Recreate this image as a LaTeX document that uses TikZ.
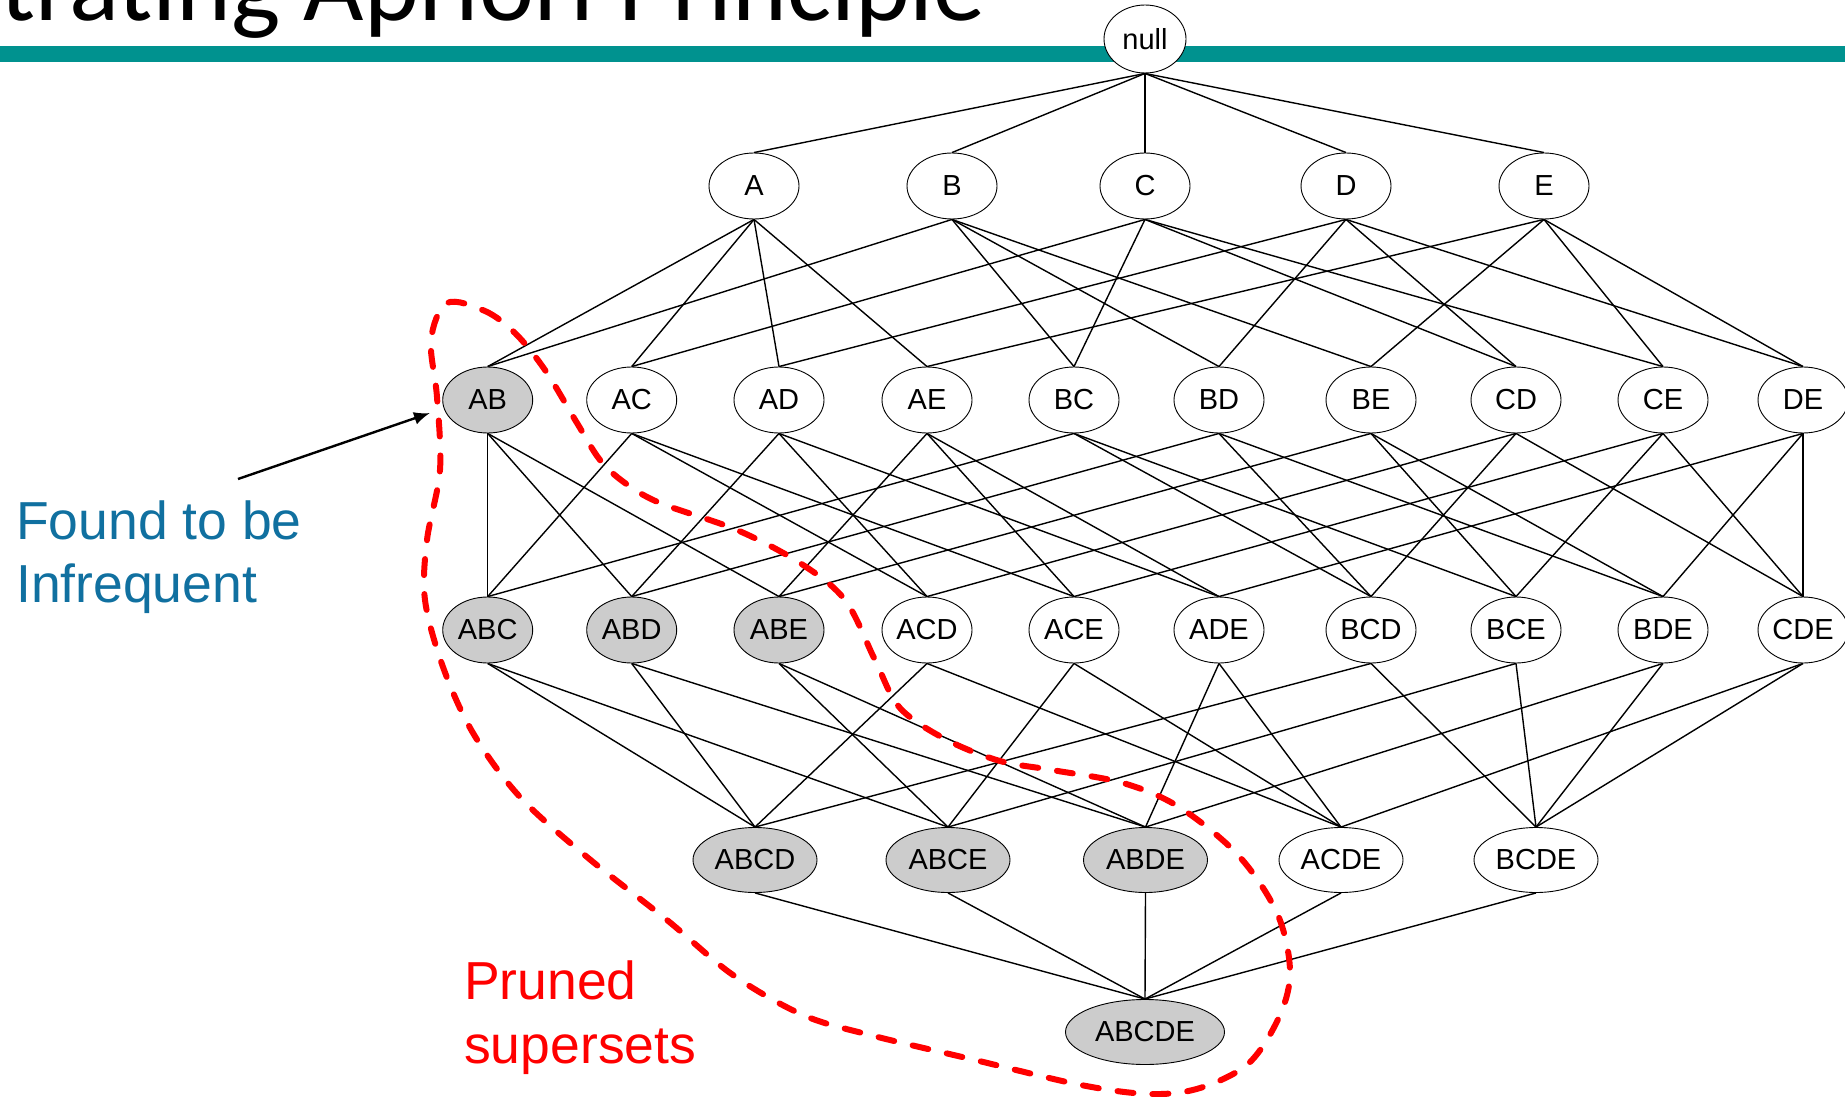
\documentclass[tikz,border=0pt]{standalone}
\usepackage{fontspec}
\setmainfont{Liberation Sans}
\newfontfamily\titlefont{Carlito}
\usetikzlibrary{shapes.geometric,arrows.meta}
\definecolor{tealbar}{RGB}{0,146,143}
\definecolor{infblue}{RGB}{16,112,160}
\definecolor{prunegray}{RGB}{204,204,204}
\definecolor{prunered}{RGB}{255,0,0}
\tikzset{
  setnode/.style={ellipse,draw=black,line width=0.9pt,fill=white,inner sep=0pt,
    minimum width=90pt,minimum height=66pt,font=\fontsize{29}{31}\selectfont},
  prunednode/.style={fill=prunegray},
  wideset/.style={minimum width=124pt,minimum height=65pt},
  widestset/.style={minimum width=159pt,minimum height=65pt},
  latedge/.style={line width=1.4pt,draw=black},
  annot/.style={anchor=base west,inner sep=0pt,font=\fontsize{53.5}{60}\selectfont},
  prunecurve/.style={draw=prunered,line width=6pt,line cap=round,dash pattern=on 16pt off 19pt}
}
\begin{document}
\begin{tikzpicture}[x=1pt,y=-1pt]
\path[use as bounding box] (0,0) rectangle (1845,1097);
\clip (0,0) rectangle (1845,1097);
\fill[white] (0,0) rectangle (1845,1097);
% title and bar
\node[anchor=base west,inner sep=0pt,font=\titlefont\fontsize{104.3}{110}\selectfont] (title) at (0,20.7) {trating Apriori Principle};
\fill[tealbar] (0,46) rectangle (1845,62);
% level 0
\node[setnode,minimum width=82pt,minimum height=68pt] (null) at (1145,39) {null};
% level 1
\foreach \n/\x in {A/754,B/952,C/1145,D/1346,E/1544}
  \node[setnode] (\n) at (\x,186) {\n};
% level 2
\foreach \n/\x in {AC/631.7,AD/779,AE/927,BC/1074,BD/1219,BE/1371,CD/1516,CE/1663,DE/1803}
  \node[setnode] (\n) at (\x,400) {\n};
\node[setnode,prunednode] (AB) at (487.7,400) {AB};
% level 3
\foreach \n/\x in {ABC/487.7,ABD/631.7,ABE/779}
  \node[setnode,prunednode] (\n) at (\x,630) {\n};
\foreach \n/\x in {ACD/927,ACE/1074,ADE/1219,BCD/1371,BCE/1516,BDE/1663,CDE/1803}
  \node[setnode] (\n) at (\x,630) {\n};
% level 4
\foreach \n/\x in {ABCD/755,ABCE/948,ABDE/1145.5}
  \node[setnode,wideset,prunednode] (\n) at (\x,860) {\n};
\foreach \n/\x in {ACDE/1341,BCDE/1536}
  \node[setnode,wideset] (\n) at (\x,860) {\n};
% level 5
\node[setnode,widestset,prunednode] (ABCDE) at (1145,1032) {ABCDE};
% edges
\foreach \p/\c in {null/A,null/B,null/C,null/D,null/E,
  A/AB,B/AB,A/AC,C/AC,A/AD,D/AD,A/AE,E/AE,B/BC,C/BC,B/BD,D/BD,B/BE,E/BE,C/CD,D/CD,C/CE,E/CE,D/DE,E/DE,
  AB/ABC,AC/ABC,BC/ABC,AB/ABD,AD/ABD,BD/ABD,AB/ABE,AE/ABE,BE/ABE,AC/ACD,AD/ACD,CD/ACD,
  AC/ACE,AE/ACE,CE/ACE,AD/ADE,AE/ADE,DE/ADE,BC/BCD,BD/BCD,CD/BCD,BC/BCE,BE/BCE,CE/BCE,
  BD/BDE,BE/BDE,DE/BDE,CD/CDE,CE/CDE,DE/CDE,
  ABC/ABCD,ABD/ABCD,ACD/ABCD,BCD/ABCD,ABC/ABCE,ABE/ABCE,ACE/ABCE,BCE/ABCE,
  ABD/ABDE,ABE/ABDE,ADE/ABDE,BDE/ABDE,ACD/ACDE,ACE/ACDE,ADE/ACDE,CDE/ACDE,
  BCD/BCDE,BCE/BCDE,BDE/BCDE,CDE/BCDE,
  ABCD/ABCDE,ABCE/ABCDE,ABDE/ABCDE,ACDE/ABCDE,BCDE/ABCDE}
  \draw[latedge] (\p.south) -- (\c.north);
% annotations
\node[annot,text=infblue] (found1) at (16,539.3) {Found to be};
\node[annot,text=infblue] (found2) at (16,602.7) {Infrequent};
\coordinate (arrS) at (238,479);
\coordinate (arrE) at (430,413);
\draw[line width=2.4pt,-{Latex[length=16pt,width=13pt]}] (arrS) -- (arrE);
\node[annot,text=prunered] (pruned1) at (464,999.3) {Pruned};
\node[annot,text=prunered] (pruned2) at (464,1063.3) {supersets};
% pruned region outline
\draw[prunecurve] plot[smooth cycle,tension=0.55] coordinates {
 (447,303) (485,311) (515,333) (545,370) (577,423) (600,460) (625,483) (660,503)
 (737,530) (800,563) (845,600) (875,660) (900,708) (947,740) (1000,761) (1052,770)
 (1123,783) (1179,807) (1238,855) (1277,913) (1290,970) (1280,1015) (1249,1063)
 (1200,1088) (1150,1094) (1081,1085) (975,1060) (870,1035) (803,1015) (733,975)
 (667,920) (587,857) (520,797) (473,733) (443,667) (425,600) (427,540) (440,470)
 (437,397) (431,340)};
\end{tikzpicture}
\end{document}
